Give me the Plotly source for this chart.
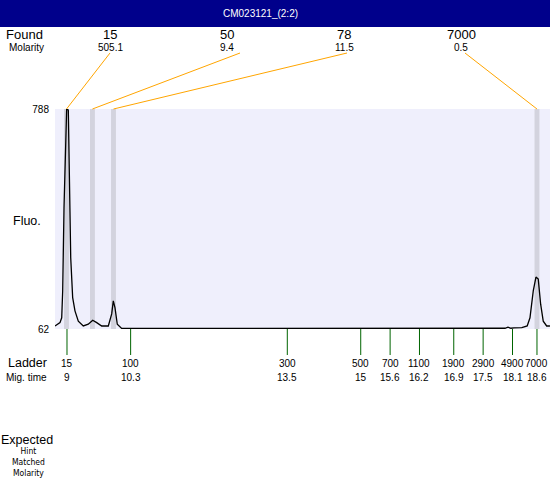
import plotly.graph_objects as go

# ---- data ----
title = "CM023121_(2:2)"
trace_time = [8.755, 8.857, 8.892, 8.912, 8.939, 8.973, 8.994, 9.027, 9.041, 9.076, 9.116, 9.163,
              9.231, 9.333, 9.435, 9.525, 9.607, 9.709, 9.844, 9.913, 9.946, 9.980, 10.027, 10.117,
              11.716, 13.759, 15.80, 17.435, 17.946, 18.007, 18.068, 18.13, 18.21, 18.29, 18.40,
              18.457, 18.524, 18.579, 18.626, 18.675, 18.728, 18.798, 18.865]
trace_fluo = [72, 83, 99, 188, 464, 742, 795, 785, 630, 298, 166, 122,
              88, 72, 78, 91, 83, 72, 72, 112, 155, 133, 78, 64,
              64, 64, 64, 64, 64.5, 68, 64.5, 66, 65, 66.5, 72,
              99, 188, 234, 227, 144, 88, 72, 72]

found_sizes = ["15", "50", "78", "7000"]
found_molarity = ["505.1", "9.4", "11.5", "0.5"]
found_times = [8.99, 9.52, 9.95, 18.6]

ladder_sizes = ["15", "100", "300", "500", "700", "1100", "1900", "2900", "4900", "7000"]
ladder_times = [9, 10.3, 13.5, 15, 15.6, 16.2, 16.9, 17.5, 18.1, 18.6]
ladder_time_labels = ["9", "10.3", "13.5", "15", "15.6", "16.2", "16.9", "17.5", "18.1", "18.6"]

y_ticks = [62, 788]
x_range = [8.755, 18.866]

# ---- layout geometry (pixels) ----
W, H = 550, 480
L, R, T, B = 55, 0, 109, 151
PW = W - L - R
PH = H - T - B
def xp(px):
    return (px - L) / PW
def yp(py):
    return (H - B - py) / PH
def px_to_time(px):
    return x_range[0] + (px - L) / PW * (x_range[1] - x_range[0])

FONT = "Liberation Sans, Arial, sans-serif"
NARROW = "Liberation Sans Narrow, DejaVu Sans Condensed, Arial Narrow, sans-serif"

fig = go.Figure()
fig.add_trace(go.Scatter(x=trace_time, y=trace_fluo, mode="lines",
                         line=dict(color="black", width=1.3), hoverinfo="skip",
                         showlegend=False))

shapes = []
annotations = []

def ann(text, x, y, size, xref="paper", color="black", family=FONT):
    annotations.append(dict(text=text, xref=xref, yref="paper", x=x, y=y,
                            xanchor="center", yanchor="middle", showarrow=False,
                            font=dict(size=size, family=family, color=color)))

# header band
shapes.append(dict(type="rect", xref="paper", yref="paper", x0=xp(0), x1=xp(W),
                   y0=yp(27), y1=yp(0), fillcolor="#00008B", line=dict(width=0), layer="above"))
ann(title, xp(260), yp(14), 10, color="white")

# found peak bands, labels, connector lines
band_w = 0.1
for i, t in enumerate(found_times):
    shapes.append(dict(type="rect", xref="x", yref="paper", x0=t - band_w / 2, x1=t + band_w / 2,
                       y0=0, y1=1, fillcolor="#D3D3DE", line=dict(width=0), layer="below"))
    lx = 110 + 117 * i
    ann(found_sizes[i], xp(lx), yp(35), 13)
    ann(found_molarity[i], xp(lx), yp(47), 10)
    start_px = [110, 240, 347, 465][i]
    shapes.append(dict(type="line", xref="x", yref="paper", x0=px_to_time(start_px), y0=yp(53),
                       x1=t, y1=1, line=dict(color="orange", width=1)))

# ladder ticks and labels
for s, t, lab in zip(ladder_sizes, ladder_times, ladder_time_labels):
    shapes.append(dict(type="line", xref="x", yref="paper", x0=t, x1=t, y0=0, y1=yp(355),
                       line=dict(color="#006400", width=1)))
    ann(s, t, yp(363), 10, xref="x")
    ann(lab, t, yp(377), 10, xref="x")

# side labels
side = [("Found", 24, 35, 13, FONT), ("Molarity", 26, 47, 10, FONT), ("Fluo.", 27, 221, 12.5, FONT),
        ("Ladder", 27, 363, 12.5, FONT), ("Mig. time", 26, 377, 10, FONT),
        ("Expected", 27, 440, 12.5, FONT),
        ("Hint<br>Matched<br>Molarity", 28, 462, 8.5, NARROW)]
for txt, x, y, sz, fam in side:
    ann(txt, xp(x), yp(y), sz, family=fam)

fig.update_layout(
    width=W, height=H, autosize=False,
    margin=dict(l=L, r=R, t=T, b=B, pad=0),
    paper_bgcolor="white", plot_bgcolor="#EFEFFC",
    shapes=shapes, annotations=annotations,
    xaxis=dict(range=x_range, visible=False, fixedrange=True),
    yaxis=dict(range=[62, 790], tickvals=y_ticks, ticktext=[str(v) for v in y_ticks],
               showgrid=False, zeroline=False, showline=False, ticks="",
               ticklabelstandoff=5,
               tickfont=dict(size=10, family=FONT, color="black"), fixedrange=True),
    showlegend=False,
)
fig.write_html("out.html", config={"displayModeBar": False},
               post_script="document.body.style.margin='0px';document.body.style.overflow='hidden';")
